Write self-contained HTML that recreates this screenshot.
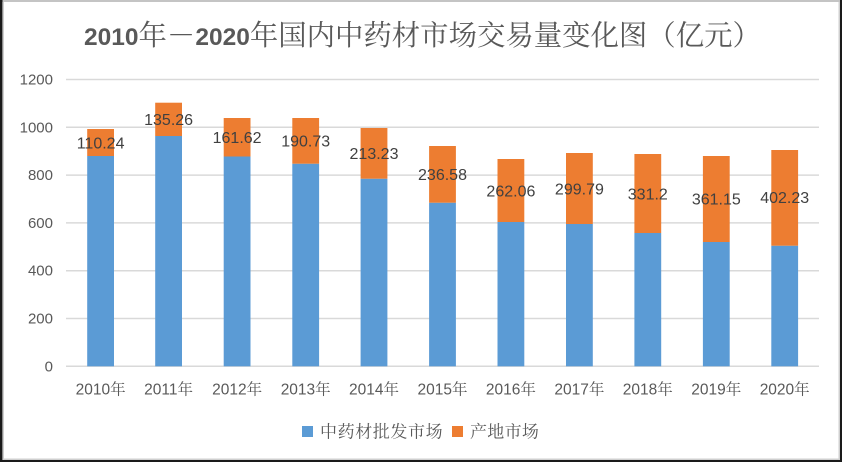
<!DOCTYPE html>
<html>
<head>
<meta charset="utf-8">
<style>
html,body{margin:0;padding:0;background:#fff;}
body{width:842px;height:462px;overflow:hidden;}
svg{display:block;}
</style>
</head>
<body>
<svg width="842" height="462" viewBox="0 0 842 462" xmlns="http://www.w3.org/2000/svg">
  <rect x="0" y="0" width="842" height="462" fill="#ffffff"/>
  <!-- frame -->
  <rect x="0" y="0" width="842" height="2" fill="#c4c4c4"/>
  <rect x="0" y="0" width="2.5" height="462" fill="#1a1a1a"/>
  <rect x="0" y="460" width="842" height="2" fill="#1a1a1a"/>
  <rect x="840" y="0" width="2" height="462" fill="#1a1a1a"/>
  <rect x="3" y="2" width="1" height="458" fill="#cfcfcf"/>
  <rect x="3" y="458.5" width="837" height="1.5" fill="#cfcfcf"/>
  <rect x="838.5" y="2" width="1.5" height="458" fill="#cfcfcf"/>

  <!-- title -->
  <text x="84" y="45" fill="#595959" style="font-family:'Liberation Sans','Noto Serif CJK SC',serif;font-size:28.4px;"><tspan font-weight="bold" font-size="24.5">2010</tspan><tspan font-family="Noto Serif CJK SC, serif">年－</tspan><tspan font-weight="bold" font-size="24.5">2020</tspan><tspan font-family="Noto Serif CJK SC, serif">年国内中药材市场交易量变化图（亿元）</tspan></text>

  <!-- gridlines -->
  <g stroke="#d9d9d9" stroke-width="1.5">
    <line x1="66" y1="79.5" x2="819" y2="79.5"/>
    <line x1="66" y1="127.3" x2="819" y2="127.3"/>
    <line x1="66" y1="175.1" x2="819" y2="175.1"/>
    <line x1="66" y1="222.9" x2="819" y2="222.9"/>
    <line x1="66" y1="270.7" x2="819" y2="270.7"/>
    <line x1="66" y1="318.5" x2="819" y2="318.5"/>
    <line x1="66" y1="366.3" x2="819" y2="366.3"/>
  </g>

  <!-- y labels -->
  <g fill="#595959" style="font-family:'Liberation Sans',sans-serif;font-size:15px;" text-anchor="end">
    <text x="53" y="84.5">1200</text>
    <text x="53" y="132.3">1000</text>
    <text x="53" y="180.1">800</text>
    <text x="53" y="227.9">600</text>
    <text x="53" y="275.7">400</text>
    <text x="53" y="323.5">200</text>
    <text x="53" y="371.3">0</text>
  </g>

  <!-- bars: blue -->
  <g fill="#5b9bd5">
    <rect x="87.2" y="156" width="26.8" height="210.3"/>
    <rect x="155.2" y="136" width="26.8" height="230.3"/>
    <rect x="223.7" y="156.5" width="26.8" height="209.8"/>
    <rect x="292.3" y="163.7" width="26.8" height="202.6"/>
    <rect x="360.6" y="178.7" width="26.8" height="187.6"/>
    <rect x="429.1" y="202.7" width="26.8" height="163.6"/>
    <rect x="497.5" y="222" width="26.8" height="144.3"/>
    <rect x="566" y="224" width="26.8" height="142.3"/>
    <rect x="634.4" y="233" width="26.8" height="133.3"/>
    <rect x="702.9" y="242" width="26.8" height="124.3"/>
    <rect x="771.3" y="245.7" width="26.8" height="120.6"/>
  </g>
  <!-- bars: orange -->
  <g fill="#ed7d31">
    <rect x="87.2" y="129" width="26.8" height="27"/>
    <rect x="155.2" y="102.7" width="26.8" height="33.3"/>
    <rect x="223.7" y="118" width="26.8" height="38.5"/>
    <rect x="292.3" y="118" width="26.8" height="45.7"/>
    <rect x="360.6" y="128" width="26.8" height="50.7"/>
    <rect x="429.1" y="146" width="26.8" height="56.7"/>
    <rect x="497.5" y="159" width="26.8" height="63"/>
    <rect x="566" y="153" width="26.8" height="71"/>
    <rect x="634.4" y="154" width="26.8" height="79"/>
    <rect x="702.9" y="156" width="26.8" height="86"/>
    <rect x="771.3" y="150" width="26.8" height="95.7"/>
  </g>

  <!-- data labels -->
  <g fill="#404040" style="font-family:'Liberation Sans',sans-serif;font-size:16px;" text-anchor="middle">
    <text x="100.6" y="148.5">110.24</text>
    <text x="168.6" y="125">135.26</text>
    <text x="237.1" y="143">161.62</text>
    <text x="305.7" y="146.5">190.73</text>
    <text x="374" y="159">213.23</text>
    <text x="442.5" y="180">236.58</text>
    <text x="510.9" y="196.5">262.06</text>
    <text x="579.4" y="194.5">299.79</text>
    <text x="647.8" y="199.5">331.2</text>
    <text x="716.3" y="204.5">361.15</text>
    <text x="784.7" y="203">402.23</text>
  </g>

  <!-- x labels -->
  <g fill="#595959" style="font-family:'Liberation Sans','Noto Serif CJK SC',serif;font-size:15.5px;" text-anchor="middle">
    <text x="100.6" y="394.5">2010<tspan font-family="Noto Serif CJK SC, serif">年</tspan></text>
    <text x="168.6" y="394.5">2011<tspan font-family="Noto Serif CJK SC, serif">年</tspan></text>
    <text x="237.1" y="394.5">2012<tspan font-family="Noto Serif CJK SC, serif">年</tspan></text>
    <text x="305.7" y="394.5">2013<tspan font-family="Noto Serif CJK SC, serif">年</tspan></text>
    <text x="374" y="394.5">2014<tspan font-family="Noto Serif CJK SC, serif">年</tspan></text>
    <text x="442.5" y="394.5">2015<tspan font-family="Noto Serif CJK SC, serif">年</tspan></text>
    <text x="510.9" y="394.5">2016<tspan font-family="Noto Serif CJK SC, serif">年</tspan></text>
    <text x="579.4" y="394.5">2017<tspan font-family="Noto Serif CJK SC, serif">年</tspan></text>
    <text x="647.8" y="394.5">2018<tspan font-family="Noto Serif CJK SC, serif">年</tspan></text>
    <text x="716.3" y="394.5">2019<tspan font-family="Noto Serif CJK SC, serif">年</tspan></text>
    <text x="784.7" y="394.5">2020<tspan font-family="Noto Serif CJK SC, serif">年</tspan></text>
  </g>

  <!-- legend -->
  <rect x="302" y="426" width="11" height="11" fill="#5b9bd5"/>
  <text x="320" y="437.5" fill="#595959" style="font-family:'Noto Serif CJK SC',serif;font-size:17px;letter-spacing:0.6px;">中药材批发市场</text>
  <rect x="452" y="426" width="11" height="11" fill="#ed7d31"/>
  <text x="470" y="437.5" fill="#595959" style="font-family:'Noto Serif CJK SC',serif;font-size:17px;letter-spacing:0.3px;">产地市场</text>
</svg>
</body>
</html>
